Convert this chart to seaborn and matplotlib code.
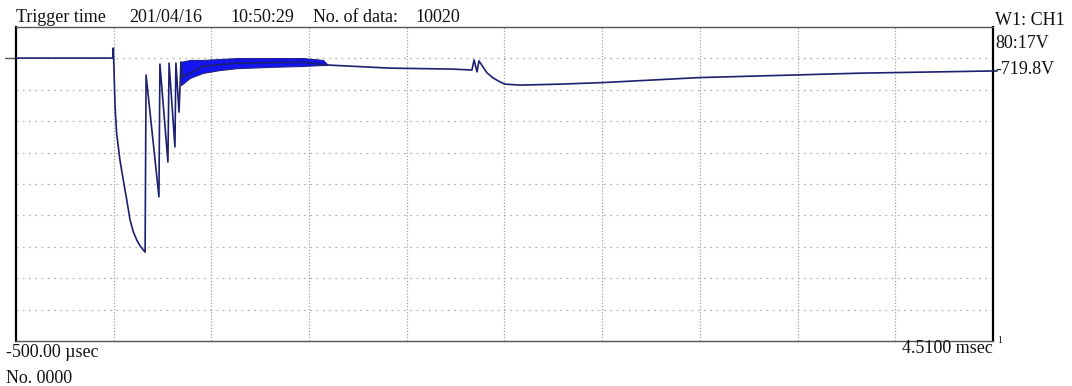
import numpy as np
import pandas as pd
import matplotlib
matplotlib.use("Agg")
import matplotlib.pyplot as plt
import seaborn as sns

# ---- data (time in ms, value in screen divisions 0..10) ----
trace_t = [-0.500, -0.003, -0.001, 0.003, 0.008, 0.016, 0.033, 0.050, 0.068,
           0.085, 0.102, 0.119, 0.136, 0.162,
           0.167, 0.233, 0.238, 0.279, 0.285, 0.315, 0.320, 0.336, 0.346,
           0.356, 0.459, 0.633, 0.972, 1.095, 1.418, 1.736, 1.838, 1.849,
           1.864, 1.874, 1.915, 1.946, 1.982, 2.008, 2.085, 2.290, 2.510,
           3.008, 3.484, 3.828, 4.510]
trace_v = [9.01, 9.01, 9.33, 8.54, 7.45, 6.62, 5.76, 5.13, 4.49,
           3.85, 3.47, 3.22, 3.03, 2.83,
           8.47, 4.59, 8.82, 5.70, 8.85, 6.18, 8.85, 7.29, 8.89,
           8.40, 8.75, 8.85, 8.88, 8.79, 8.69, 8.66, 8.63, 8.95,
           8.57, 8.92, 8.54, 8.38, 8.25, 8.18, 8.15, 8.18, 8.23,
           8.39, 8.47, 8.53, 8.60]

band_t = [0.346, 0.392, 0.459, 0.546, 0.633, 0.803, 0.972, 1.074, 1.095]
band_hi = [8.89, 8.95, 8.95, 8.98, 9.01, 9.01, 9.01, 8.95, 8.82]
band_lo = [8.15, 8.38, 8.54, 8.63, 8.69, 8.73, 8.76, 8.79, 8.79]

t_start, t_end = -0.500, 4.510
n_div = 10

header_parts = ["Trigger time", "201/04/16", "10:50:29", "No. of data:", "10020"]
right_labels = ["W1: CH1", "80:17V", "-719.8V"]
start_label = "-500.00 \u00b5sec"
end_label = "4.5100 msec"
count_label = "No. 0000"

df = pd.DataFrame({"t": trace_t, "v": trace_v})

sns.set_style("white")
plt.rcParams["font.family"] = ["Liberation Serif", "DejaVu Serif"]

W, H = 1072, 386
fig = plt.figure(figsize=(W / 100, H / 100), dpi=100)
L, R, T, B = 16, 993, 27, 341
ax = fig.add_axes([L / W, 1 - B / H, (R - L) / W, (B - T) / H])

ax.set_xlim(t_start, t_end)
ax.set_ylim(0, n_div)

# grid
xt = np.linspace(t_start, t_end, n_div + 1)[1:-1]
for x in xt:
    ax.axvline(x, color="#a0a0a0", lw=0.9, ls=(0, (1, 1.5)), zorder=0)
for y in range(1, n_div):
    ax.axhline(y, color="#b4b4b4", lw=0.9, ls=(0, (1.5, 3.5)), zorder=0)

# noisy band
ax.fill_between(band_t, band_lo, band_hi, color="#1414f0", lw=0.8,
                edgecolor="#20208a", zorder=2)
sns.lineplot(data=df, x="t", y="v", ax=ax, sort=False, estimator=None,
             color="#1c2070", lw=1.2, zorder=3)

ax.set_xticks([])
ax.set_yticks([])
ax.set_xlabel("")
ax.set_ylabel("")
for s in ["left", "right"]:
    ax.spines[s].set_color("black")
    ax.spines[s].set_linewidth(1.6)
for s in ["top", "bottom"]:
    ax.spines[s].set_color("#555555")
    ax.spines[s].set_linewidth(1.0)

# level markers outside axes
px = (t_end - t_start) / (R - L)
ax.plot([t_start - 11 * px, t_start], [trace_v[0], trace_v[0]],
        color="#555555", lw=1.0, clip_on=False)
ax.plot([t_end, t_end + 4 * px], [trace_v[-1], trace_v[-1]],
        color="#1c2070", lw=1.2, clip_on=False)

fs = 13
def ftext(x, y, s, **kw):
    fig.text(x / W, 1 - y / H, s, fontsize=fs, color="#111111", **kw)

header_x = [16, 129, 230, 313, 415]
for x, s in zip(header_x, header_parts):
    ftext(x, 22, s, ha="left", va="baseline")

ftext(995, 25, right_labels[0], ha="left", va="baseline")
ftext(995, 48, right_labels[1], ha="left", va="baseline")
ftext(995, 74, right_labels[2], ha="left", va="baseline")

ftext(6, 357, start_label, ha="left", va="baseline")
ftext(993, 353, end_label, ha="right", va="baseline")
fig.text(997 / W, 1 - 343 / H, "1", fontsize=7, color="#111111",
         ha="left", va="baseline")
ftext(6, 383, count_label, ha="left", va="baseline")

fig.savefig("out.png", dpi=100, facecolor="white")
